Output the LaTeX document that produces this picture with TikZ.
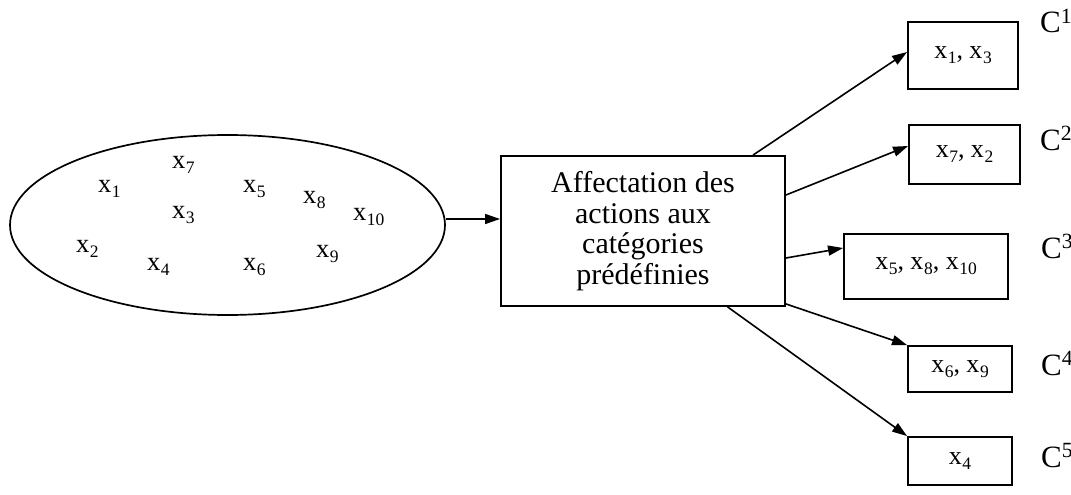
\documentclass[tikz,border=0pt]{standalone}
\usepackage{fontspec}
\setmainfont{Liberation Serif}
\usetikzlibrary{arrows.meta,shapes.geometric,calc}
% element name with a lowered index
\newcommand\xel[1]{x\kern0.5pt\raisebox{-5pt}{\fontsize{17.5}{18}\selectfont #1}}

\begin{document}
\begin{tikzpicture}[x=1pt,y=-1pt,
  elem/.style={font=\fontsize{26.5}{28}\selectfont, inner sep=0pt, anchor=base west},
  catbox/.style={draw, line width=1.9pt, inner sep=0pt, font=\fontsize{26}{28}\selectfont},
  catlabel/.style={font=\fontsize{31}{32}\selectfont, inner sep=0pt, anchor=base west},
  link/.style={line width=1.6pt, -{Triangle[length=15pt,width=10pt]}}]
\useasboundingbox (0,0) rectangle (1071,495);

% set of actions
\node[draw, ellipse, line width=1.7pt, minimum width=435pt, minimum height=180pt, inner sep=0pt] (set) at (227.5,225) {};
\node[elem] (e7)  at (172,168) {\xel{7}};
\node[elem] (e1)  at (98,192)  {\xel{1}};
\node[elem] (e5)  at (243,192) {\xel{5}};
\node[elem] (e8)  at (303,203) {\xel{8}};
\node[elem] (e10) at (353,220) {\xel{10}};
\node[elem] (e3)  at (172,218) {\xel{3}};
\node[elem] (e2)  at (76,252)  {\xel{2}};
\node[elem] (e4)  at (147,270) {\xel{4}};
\node[elem] (e6)  at (243,270) {\xel{6}};
\node[elem] (e9)  at (316,257) {\xel{9}};

% assignment procedure
\node[draw, line width=1.9pt, minimum width=284pt, minimum height=150pt, inner sep=0pt,
      align=center, font=\fontsize{30}{30.5}\selectfont] (act) at (643,231)
  {Affectation des\\actions aux\\catégories\\prédéfinies};

% categories
\node[catbox, minimum width=110pt, minimum height=67pt] (c1) at (963,55.5) {\raisebox{3pt}{\xel{1}, \xel{3}}\hspace{8pt}};
\node[catbox, minimum width=111pt, minimum height=59pt] (c2) at (964.5,154.5) {\xel{7}, \xel{2}\hspace{6pt}};
\node[catbox, minimum width=164pt, minimum height=65pt] (c3) at (926,266.5) {\raisebox{2pt}{\xel{5}, \xel{8}, \xel{10}}\hspace{6pt}};
\node[catbox, minimum width=104pt, minimum height=46pt] (c4) at (960,369) {\raisebox{-1pt}{\xel{6}, \xel{9}}};
\node[catbox, minimum width=104pt, minimum height=48pt] (c5) at (960,461) {\raisebox{-4pt}{\xel{4}}\hspace{30pt}};

\node[catlabel] (l1) at (1040,33)  {C\textsuperscript{1}};
\node[catlabel] (l2) at (1040,150) {C\textsuperscript{2}};
\node[catlabel] (l3) at (1041,258) {C\textsuperscript{3}};
\node[catlabel] (l4) at (1041,375) {C\textsuperscript{4}};
\node[catlabel] (l5) at (1041,467) {C\textsuperscript{5}};

% connectors
\draw[link] ([yshift=6pt]set.east) -- ([yshift=6pt]set.east -| act.west);
\draw[link] ($(act.north west)!0.885!(act.north east)$) -- ([yshift=3.5pt]c1.west);
\draw[link] ([yshift=36pt]act.east) -- ([yshift=8.5pt]c2.west);
\draw[link] ([yshift=-27pt]act.east) -- ([yshift=18.5pt]c3.west);
\draw[link] ([yshift=3pt]act.south east) -- (c4.north west);
\draw[link] ($(act.south west)!0.796!(act.south east)$) -- (c5.north west);
\end{tikzpicture}
\end{document}
